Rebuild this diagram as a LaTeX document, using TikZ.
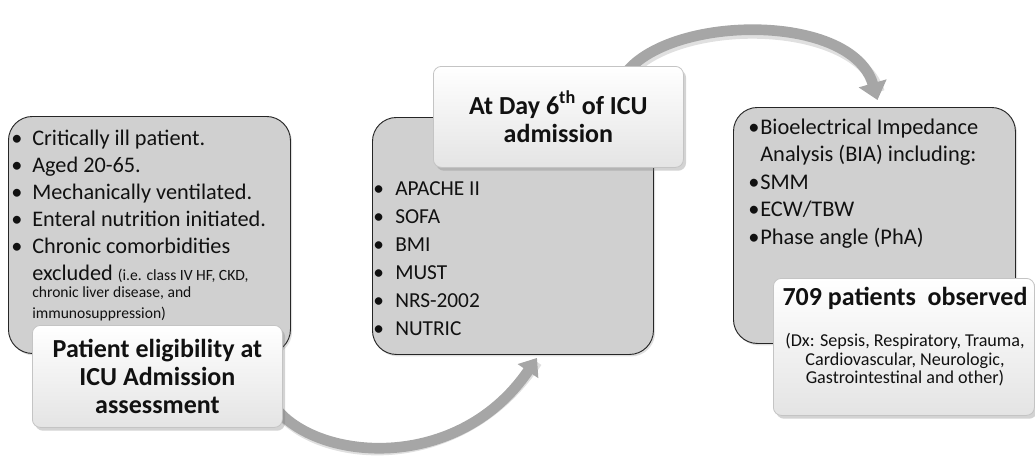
\documentclass[tikz,border=0pt]{standalone}
\usepackage{fontspec}
\setmainfont{Carlito}
\usetikzlibrary{arrows.meta,shadows,backgrounds,calc}
\definecolor{boxgrey}{HTML}{D0D0D0}
\definecolor{arrowgrey}{HTML}{A6A6A6}
\definecolor{labline}{HTML}{C4C4C4}
\definecolor{labbot}{HTML}{E4E4E4}
\definecolor{txtcol}{HTML}{111111}
\newcommand{\bitem}[2]{\makebox[#1][l]{•}#2}
\tikzset{
  greybox/.style={draw=black!85, line width=0.7pt, fill=boxgrey, rounded corners=18pt,
    inner sep=0pt, anchor=north west,
    drop shadow={shadow xshift=1.2pt, shadow yshift=-1.5pt, opacity=0.25}},
  labbox/.style={draw=labline, line width=0.6pt, top color=white, bottom color=labbot,
    rounded corners=6pt, inner sep=0pt, anchor=north west, align=center, text=txtcol,
    font=\bfseries\fontsize{19.5}{21.3}\selectfont,
    drop shadow={shadow xshift=2pt, shadow yshift=-2.5pt, opacity=0.35}},
  listtxt/.style={inner sep=0pt, anchor=north west, align=left, text=txtcol},
  flowarrow/.style={draw=arrowgrey, line width=8pt},
  flowshadow/.style={draw=black, opacity=0.12, line width=8pt}
}
\begin{document}
\begin{tikzpicture}[x=0.75pt,y=-0.75pt]
\useasboundingbox (0,0) rectangle (1035,458);

% grey boxes
\node[greybox, minimum width=211.5pt, minimum height=177.75pt] (b1) at (8,116) {};
\node[greybox, minimum width=210.75pt, minimum height=177.75pt] (b2) at (372,117) {};
\node[greybox, minimum width=211.5pt, minimum height=177pt] (b3) at (733,107) {};

% list texts
\node[listtxt, font=\fontsize{16.7}{20.25}\selectfont] (t1) at (11,129.5) {%
\bitem{15.75pt}{Critically ill patient.}\\
\bitem{15.75pt}{Aged 20-65.}\\
\bitem{15.75pt}{Mechanically ventilated.}\\
\bitem{15.75pt}{Enteral nutrition initiated.}\\
\bitem{15.75pt}{Chronic comorbidities}\\
\hspace*{15.75pt}excluded {\fontsize{11.7}{15}\selectfont (i.e. class IV HF, CKD,}\\[-7pt]
\hspace*{15.75pt}{\fontsize{11.7}{15}\selectfont chronic liver disease, and}\\[-5pt]
\hspace*{15.75pt}{\fontsize{11.7}{15}\selectfont immunosuppression)}};

\node[listtxt, font=\fontsize{16}{21}\selectfont] (t2) at (373,181) {%
\bitem{16.5pt}{APACHE II}\\
\bitem{16.5pt}{SOFA}\\
\bitem{16.5pt}{BMI}\\
\bitem{16.5pt}{MUST}\\
\bitem{16.5pt}{NRS-2002}\\
\bitem{16.5pt}{NUTRIC}};

\node[listtxt, font=\fontsize{16.8}{20.6}\selectfont] (t3) at (748,118.5) {%
\bitem{9pt}{Bioelectrical Impedance}\\
\hspace*{9pt}Analysis (BIA) including:\\
\bitem{9pt}{SMM}\\
\bitem{9pt}{ECW/TBW}\\
\bitem{9pt}{Phase angle (PhA)}};

% label boxes
\node[labbox, minimum width=187.5pt, minimum height=76.5pt] (lab1) at (32,325)
  {Patient eligibility at\\ICU Admission\\assessment};
\node[labbox, minimum width=187.5pt, minimum height=75.75pt] (lab2) at (433,66)
  {At Day 6\textsuperscript{th} of ICU\\admission};
\node[labbox, minimum width=195.75pt, minimum height=102.75pt] (lab3) at (773,278) {};
\node[inner sep=0pt, anchor=base, text=txtcol, font=\bfseries\fontsize{19.5}{21}\selectfont]
  (lab3t) at (905,305) {709 patients\ \ observed};
\node[inner sep=0pt, anchor=north, align=center, text=txtcol, font=\fontsize{13.6}{14}\selectfont]
  (lab3d) at (905,333) {(Dx: Sepsis, Respiratory, Trauma,\\Cardiovascular, Neurologic,\\Gastrointestinal and other)};

% connectors
\coordinate (a1s) at ($(lab1.south east)+(-12,-27)$);
\coordinate (a1e) at ($(b2.south west)+(165,3)$);
\coordinate (a2s) at ($(lab2.north)+(57,29)$);
\coordinate (a2e) at ($(b3.north)+(3,-7)$);
\begin{scope}[on background layer]
  \draw[flowshadow] ([shift={(2,3)}]a1s) .. controls (307,463) and (457,481) .. ([shift={(0,4)}]a1e);
  \draw[flowarrow, -{Triangle[length=12pt,width=18pt]}] (a1s) .. controls (305,460) and (455,478) .. (a1e);
  \draw[flowshadow] ([shift={(2,3)}]a2s) .. controls (632,18) and (852,8) .. ([shift={(2,-8)}]a2e);
  \draw[flowarrow, -{Triangle[length=13pt,width=21pt]}] (a2s) .. controls (630,15) and (850,5) .. (a2e);
\end{scope}
\end{tikzpicture}
\end{document}
